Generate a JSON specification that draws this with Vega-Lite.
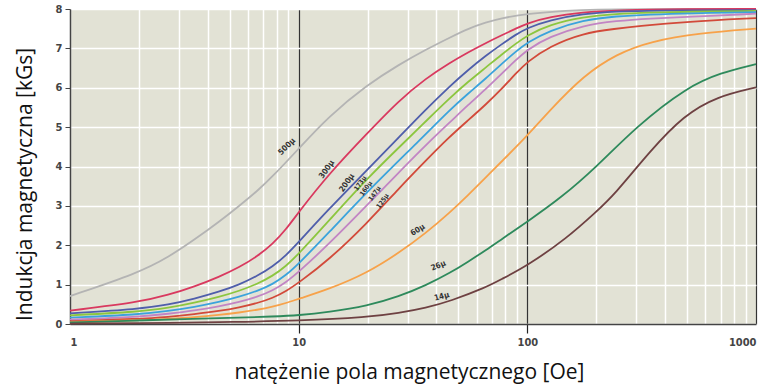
{
  "$schema": "https://vega.github.io/schema/vega-lite/v6.json",
  "width": 686,
  "height": 315,
  "autosize": {"type": "none"},
  "padding": {"left": 70, "top": 9, "right": 14, "bottom": 63},
  "background": "white",
  "config": {
    "view": {"fill": "#e2e2d5", "stroke": null},
    "axis": {
      "labelFont": "DejaVu Sans Condensed, Liberation Sans Narrow, Roboto, sans-serif",
      "labelFontWeight": "bold",
      "labelColor": "#444",
      "labelFontSize": 11,
      "titleFont": "Open Sans",
      "titleFontWeight": "normal",
      "titleColor": "#111",
      "titleFontSize": 21,
      "domainColor": "#444",
      "domainWidth": 1.5
    }
  },
  "datasets": {
    "curves": [
      {"mu": "500μ", "H": 1, "B": 0.71}, {"mu": "500μ", "H": 2, "B": 1.3}, {"mu": "500μ", "H": 2.7, "B": 1.7}, {"mu": "500μ", "H": 3.5, "B": 2.14}, {"mu": "500μ", "H": 4.5, "B": 2.6}, {"mu": "500μ", "H": 5.5, "B": 3.0}, {"mu": "500μ", "H": 6.6, "B": 3.38}, {"mu": "500μ", "H": 7.7, "B": 3.75}, {"mu": "500μ", "H": 10, "B": 4.45}, {"mu": "500μ", "H": 13.5, "B": 5.27}, {"mu": "500μ", "H": 20, "B": 6.08}, {"mu": "500μ", "H": 27.5, "B": 6.59}, {"mu": "500μ", "H": 36, "B": 6.97}, {"mu": "500μ", "H": 46, "B": 7.28}, {"mu": "500μ", "H": 55, "B": 7.5}, {"mu": "500μ", "H": 66, "B": 7.66}, {"mu": "500μ", "H": 77, "B": 7.77}, {"mu": "500μ", "H": 100, "B": 7.88}, {"mu": "500μ", "H": 150, "B": 7.96}, {"mu": "500μ", "H": 200, "B": 7.99}, {"mu": "500μ", "H": 300, "B": 8.0}, {"mu": "500μ", "H": 1000, "B": 8.0},
      {"mu": "300μ", "H": 1, "B": 0.34}, {"mu": "300μ", "H": 2, "B": 0.55}, {"mu": "300μ", "H": 2.7, "B": 0.74}, {"mu": "300μ", "H": 3.5, "B": 0.95}, {"mu": "300μ", "H": 4.5, "B": 1.2}, {"mu": "300μ", "H": 5.5, "B": 1.44}, {"mu": "300μ", "H": 6.6, "B": 1.72}, {"mu": "300μ", "H": 7.7, "B": 2.03}, {"mu": "300μ", "H": 8.8, "B": 2.4}, {"mu": "300μ", "H": 10, "B": 2.84}, {"mu": "300μ", "H": 13.5, "B": 3.8}, {"mu": "300μ", "H": 20, "B": 4.85}, {"mu": "300μ", "H": 27.5, "B": 5.68}, {"mu": "300μ", "H": 36, "B": 6.24}, {"mu": "300μ", "H": 46, "B": 6.64}, {"mu": "300μ", "H": 55, "B": 6.9}, {"mu": "300μ", "H": 66, "B": 7.14}, {"mu": "300μ", "H": 77, "B": 7.33}, {"mu": "300μ", "H": 89, "B": 7.5}, {"mu": "300μ", "H": 100, "B": 7.64}, {"mu": "300μ", "H": 125, "B": 7.8}, {"mu": "300μ", "H": 175, "B": 7.92}, {"mu": "300μ", "H": 245, "B": 7.97}, {"mu": "300μ", "H": 500, "B": 8.0}, {"mu": "300μ", "H": 1000, "B": 8.0},
      {"mu": "200μ", "H": 1, "B": 0.27}, {"mu": "200μ", "H": 2, "B": 0.38}, {"mu": "200μ", "H": 2.7, "B": 0.49}, {"mu": "200μ", "H": 3.5, "B": 0.64}, {"mu": "200μ", "H": 4.5, "B": 0.82}, {"mu": "200μ", "H": 5.5, "B": 1.0}, {"mu": "200μ", "H": 6.6, "B": 1.22}, {"mu": "200μ", "H": 7.7, "B": 1.46}, {"mu": "200μ", "H": 8.8, "B": 1.74}, {"mu": "200μ", "H": 10, "B": 2.08}, {"mu": "200μ", "H": 13.5, "B": 2.91}, {"mu": "200μ", "H": 20, "B": 3.92}, {"mu": "200μ", "H": 27, "B": 4.7}, {"mu": "200μ", "H": 36, "B": 5.45}, {"mu": "200μ", "H": 46, "B": 6.05}, {"mu": "200μ", "H": 55, "B": 6.45}, {"mu": "200μ", "H": 66, "B": 6.82}, {"mu": "200μ", "H": 77, "B": 7.1}, {"mu": "200μ", "H": 89, "B": 7.35}, {"mu": "200μ", "H": 100, "B": 7.52}, {"mu": "200μ", "H": 125, "B": 7.72}, {"mu": "200μ", "H": 175, "B": 7.88}, {"mu": "200μ", "H": 245, "B": 7.94}, {"mu": "200μ", "H": 345, "B": 7.96}, {"mu": "200μ", "H": 1000, "B": 7.97},
      {"mu": "173μ", "H": 1, "B": 0.22}, {"mu": "173μ", "H": 2, "B": 0.31}, {"mu": "173μ", "H": 2.7, "B": 0.41}, {"mu": "173μ", "H": 3.5, "B": 0.54}, {"mu": "173μ", "H": 4.5, "B": 0.69}, {"mu": "173μ", "H": 5.5, "B": 0.84}, {"mu": "173μ", "H": 6.6, "B": 1.02}, {"mu": "173μ", "H": 7.7, "B": 1.22}, {"mu": "173μ", "H": 8.8, "B": 1.47}, {"mu": "173μ", "H": 10, "B": 1.78}, {"mu": "173μ", "H": 13.5, "B": 2.61}, {"mu": "173μ", "H": 20, "B": 3.71}, {"mu": "173μ", "H": 30, "B": 4.7}, {"mu": "173μ", "H": 36, "B": 5.15}, {"mu": "173μ", "H": 46, "B": 5.75}, {"mu": "173μ", "H": 55, "B": 6.15}, {"mu": "173μ", "H": 66, "B": 6.52}, {"mu": "173μ", "H": 77, "B": 6.84}, {"mu": "173μ", "H": 89, "B": 7.12}, {"mu": "173μ", "H": 100, "B": 7.33}, {"mu": "173μ", "H": 125, "B": 7.6}, {"mu": "173μ", "H": 175, "B": 7.8}, {"mu": "173μ", "H": 245, "B": 7.88}, {"mu": "173μ", "H": 345, "B": 7.91}, {"mu": "173μ", "H": 500, "B": 7.93}, {"mu": "173μ", "H": 1000, "B": 7.95},
      {"mu": "160μ", "H": 1, "B": 0.16}, {"mu": "160μ", "H": 2, "B": 0.24}, {"mu": "160μ", "H": 2.7, "B": 0.33}, {"mu": "160μ", "H": 3.5, "B": 0.43}, {"mu": "160μ", "H": 4.5, "B": 0.56}, {"mu": "160μ", "H": 5.5, "B": 0.69}, {"mu": "160μ", "H": 6.6, "B": 0.84}, {"mu": "160μ", "H": 7.7, "B": 1.01}, {"mu": "160μ", "H": 8.8, "B": 1.24}, {"mu": "160μ", "H": 10, "B": 1.53}, {"mu": "160μ", "H": 13.5, "B": 2.31}, {"mu": "160μ", "H": 20, "B": 3.37}, {"mu": "160μ", "H": 34, "B": 4.68}, {"mu": "160μ", "H": 46, "B": 5.45}, {"mu": "160μ", "H": 55, "B": 5.85}, {"mu": "160μ", "H": 66, "B": 6.24}, {"mu": "160μ", "H": 77, "B": 6.6}, {"mu": "160μ", "H": 89, "B": 6.92}, {"mu": "160μ", "H": 100, "B": 7.15}, {"mu": "160μ", "H": 125, "B": 7.45}, {"mu": "160μ", "H": 175, "B": 7.72}, {"mu": "160μ", "H": 245, "B": 7.82}, {"mu": "160μ", "H": 345, "B": 7.86}, {"mu": "160μ", "H": 500, "B": 7.89}, {"mu": "160μ", "H": 1000, "B": 7.92},
      {"mu": "147μ", "H": 1, "B": 0.11}, {"mu": "147μ", "H": 2, "B": 0.18}, {"mu": "147μ", "H": 2.7, "B": 0.26}, {"mu": "147μ", "H": 3.5, "B": 0.34}, {"mu": "147μ", "H": 4.5, "B": 0.45}, {"mu": "147μ", "H": 5.5, "B": 0.56}, {"mu": "147μ", "H": 6.6, "B": 0.69}, {"mu": "147μ", "H": 7.7, "B": 0.85}, {"mu": "147μ", "H": 8.8, "B": 1.06}, {"mu": "147μ", "H": 10, "B": 1.32}, {"mu": "147μ", "H": 13.5, "B": 2.02}, {"mu": "147μ", "H": 20, "B": 3.03}, {"mu": "147μ", "H": 27.5, "B": 3.86}, {"mu": "147μ", "H": 38, "B": 4.68}, {"mu": "147μ", "H": 46, "B": 5.13}, {"mu": "147μ", "H": 55, "B": 5.56}, {"mu": "147μ", "H": 66, "B": 5.97}, {"mu": "147μ", "H": 77, "B": 6.35}, {"mu": "147μ", "H": 89, "B": 6.7}, {"mu": "147μ", "H": 100, "B": 6.97}, {"mu": "147μ", "H": 125, "B": 7.3}, {"mu": "147μ", "H": 175, "B": 7.58}, {"mu": "147μ", "H": 245, "B": 7.7}, {"mu": "147μ", "H": 345, "B": 7.76}, {"mu": "147μ", "H": 500, "B": 7.8}, {"mu": "147μ", "H": 1000, "B": 7.88},
      {"mu": "125μ", "H": 1, "B": 0.07}, {"mu": "125μ", "H": 2, "B": 0.13}, {"mu": "125μ", "H": 2.7, "B": 0.18}, {"mu": "125μ", "H": 3.5, "B": 0.25}, {"mu": "125μ", "H": 4.5, "B": 0.33}, {"mu": "125μ", "H": 5.5, "B": 0.42}, {"mu": "125μ", "H": 6.6, "B": 0.53}, {"mu": "125μ", "H": 7.7, "B": 0.66}, {"mu": "125μ", "H": 8.8, "B": 0.83}, {"mu": "125μ", "H": 10, "B": 1.05}, {"mu": "125μ", "H": 13.5, "B": 1.62}, {"mu": "125μ", "H": 20, "B": 2.57}, {"mu": "125μ", "H": 27.5, "B": 3.45}, {"mu": "125μ", "H": 36, "B": 4.15}, {"mu": "125μ", "H": 45, "B": 4.72}, {"mu": "125μ", "H": 55, "B": 5.17}, {"mu": "125μ", "H": 66, "B": 5.58}, {"mu": "125μ", "H": 77, "B": 5.96}, {"mu": "125μ", "H": 89, "B": 6.36}, {"mu": "125μ", "H": 100, "B": 6.66}, {"mu": "125μ", "H": 125, "B": 7.05}, {"mu": "125μ", "H": 175, "B": 7.39}, {"mu": "125μ", "H": 245, "B": 7.5}, {"mu": "125μ", "H": 300, "B": 7.56}, {"mu": "125μ", "H": 500, "B": 7.68}, {"mu": "125μ", "H": 1000, "B": 7.77},
      {"mu": "60μ", "H": 1, "B": 0.05}, {"mu": "60μ", "H": 2, "B": 0.09}, {"mu": "60μ", "H": 2.7, "B": 0.13}, {"mu": "60μ", "H": 3.5, "B": 0.17}, {"mu": "60μ", "H": 4.5, "B": 0.23}, {"mu": "60μ", "H": 5.5, "B": 0.29}, {"mu": "60μ", "H": 6.6, "B": 0.36}, {"mu": "60μ", "H": 7.7, "B": 0.44}, {"mu": "60μ", "H": 8.8, "B": 0.53}, {"mu": "60μ", "H": 10, "B": 0.64}, {"mu": "60μ", "H": 13.5, "B": 0.88}, {"mu": "60μ", "H": 20, "B": 1.3}, {"mu": "60μ", "H": 27.5, "B": 1.81}, {"mu": "60μ", "H": 36, "B": 2.31}, {"mu": "60μ", "H": 46, "B": 2.84}, {"mu": "60μ", "H": 55, "B": 3.27}, {"mu": "60μ", "H": 66, "B": 3.73}, {"mu": "60μ", "H": 77, "B": 4.12}, {"mu": "60μ", "H": 100, "B": 4.78}, {"mu": "60μ", "H": 125, "B": 5.42}, {"mu": "60μ", "H": 177, "B": 6.32}, {"mu": "60μ", "H": 246, "B": 6.86}, {"mu": "60μ", "H": 345, "B": 7.18}, {"mu": "60μ", "H": 570, "B": 7.39}, {"mu": "60μ", "H": 1000, "B": 7.5},
      {"mu": "26μ", "H": 1, "B": 0.04}, {"mu": "26μ", "H": 2, "B": 0.09}, {"mu": "26μ", "H": 3.5, "B": 0.13}, {"mu": "26μ", "H": 5.5, "B": 0.16}, {"mu": "26μ", "H": 7.7, "B": 0.19}, {"mu": "26μ", "H": 10, "B": 0.22}, {"mu": "26μ", "H": 13.5, "B": 0.3}, {"mu": "26μ", "H": 20, "B": 0.46}, {"mu": "26μ", "H": 27.5, "B": 0.7}, {"mu": "26μ", "H": 36, "B": 0.98}, {"mu": "26μ", "H": 46, "B": 1.3}, {"mu": "26μ", "H": 55, "B": 1.58}, {"mu": "26μ", "H": 66, "B": 1.88}, {"mu": "26μ", "H": 77, "B": 2.15}, {"mu": "26μ", "H": 100, "B": 2.6}, {"mu": "26μ", "H": 140, "B": 3.2}, {"mu": "26μ", "H": 200, "B": 3.98}, {"mu": "26μ", "H": 300, "B": 5.02}, {"mu": "26μ", "H": 500, "B": 6.02}, {"mu": "26μ", "H": 700, "B": 6.38}, {"mu": "26μ", "H": 1000, "B": 6.6},
      {"mu": "14μ", "H": 1, "B": 0.01}, {"mu": "14μ", "H": 3, "B": 0.03}, {"mu": "14μ", "H": 5, "B": 0.05}, {"mu": "14μ", "H": 10, "B": 0.08}, {"mu": "14μ", "H": 20, "B": 0.17}, {"mu": "14μ", "H": 27.5, "B": 0.28}, {"mu": "14μ", "H": 36, "B": 0.41}, {"mu": "14μ", "H": 46, "B": 0.58}, {"mu": "14μ", "H": 66, "B": 0.93}, {"mu": "14μ", "H": 76, "B": 1.12}, {"mu": "14μ", "H": 100, "B": 1.48}, {"mu": "14μ", "H": 149, "B": 2.18}, {"mu": "14μ", "H": 200, "B": 2.85}, {"mu": "14μ", "H": 240, "B": 3.28}, {"mu": "14μ", "H": 345, "B": 4.4}, {"mu": "14μ", "H": 484, "B": 5.3}, {"mu": "14μ", "H": 676, "B": 5.78}, {"mu": "14μ", "H": 1000, "B": 6.01}
    ],
    "labels": [
      {"label": "500μ", "H": 8.9, "B": 4.5},
      {"label": "300μ", "H": 13.3, "B": 3.92},
      {"label": "200μ", "H": 16.3, "B": 3.58},
      {"label": "173μ", "H": 18.6, "B": 3.57},
      {"label": "160μ", "H": 19.7, "B": 3.44},
      {"label": "147μ", "H": 21.5, "B": 3.31},
      {"label": "125μ", "H": 23.3, "B": 3.12},
      {"label": "60μ", "H": 33.2, "B": 2.38},
      {"label": "26μ", "H": 40.9, "B": 1.47},
      {"label": "14μ", "H": 42.3, "B": 0.69}
    ]
  },
  "encoding": {
    "x": {
      "field": "H", "type": "quantitative",
      "scale": {"type": "log", "domain": [1, 1000], "nice": false},
      "axis": {
        "title": "natężenie pola magnetycznego [Oe]",
        "values": [1, 2, 3, 4, 5, 6, 7, 8, 9, 10, 20, 30, 40, 50, 60, 70, 80, 90, 100, 200, 300, 400, 500, 600, 700, 800, 900, 1000],
        "labelExpr": "(datum.value == 1 || datum.value == 10 || datum.value == 100 || datum.value == 1000) ? format(datum.value, 'd') : ''",
        "labelOverlap": false,
        "labelFlush": true,
        "labelPadding": 3,
        "tickSize": 9,
        "tickWidth": 1.2,
        "tickColor": {"condition": {"test": "datum.value == 10 || datum.value == 100", "value": "#222"}, "value": "transparent"},
        "grid": true,
        "gridColor": {"condition": {"test": "datum.value == 10 || datum.value == 100 || datum.value == 1000", "value": "#333"}, "value": "#ffffff"},
        "gridWidth": {"condition": {"test": "datum.value == 10 || datum.value == 100 || datum.value == 1000", "value": 1.2}, "value": 1.5},
        "gridOpacity": 1,
        "titleY": 48,
        "titleX": 339,
        "titleBaseline": "middle"
      }
    },
    "y": {
      "field": "B", "type": "quantitative",
      "scale": {"domain": [0, 8], "nice": false},
      "axis": {
        "title": "Indukcja magnetyczna [kGs]",
        "values": [0, 1, 2, 3, 4, 5, 6, 7, 8],
        "tickSize": 5,
        "tickColor": "#444",
        "labelPadding": 3,
        "grid": true,
        "gridColor": "#ffffff",
        "gridWidth": 1.5,
        "gridOpacity": 1,
        "titleX": -45,
        "titleY": 175,
        "titleAlign": "center",
        "titleBaseline": "middle"
      }
    }
  },
  "layer": [
    {
      "data": {"name": "curves"},
      "mark": {"type": "line", "interpolate": "basis", "strokeWidth": 1.8},
      "encoding": {
        "color": {
          "field": "mu", "type": "nominal", "legend": null,
          "scale": {
            "domain": ["500μ", "300μ", "200μ", "173μ", "160μ", "147μ", "125μ", "60μ", "26μ", "14μ"],
            "range": ["#b4b4b4", "#d9395f", "#4f5eab", "#8cc63f", "#3ba3dc", "#c285c4", "#d24a3a", "#f7a24a", "#2e8a5c", "#6e4142"]
          }
        }
      }
    },
    {
      "data": {"name": "labels"},
      "transform": [{"filter": "datum.label == '500μ'"}],
      "mark": {"type": "text", "angle": -45, "font": "DejaVu Sans Condensed, Liberation Sans Narrow, sans-serif", "fontWeight": "bold", "fontSize": 8, "color": "#333"},
      "encoding": {"text": {"field": "label"}}
    },
    {
      "data": {"name": "labels"},
      "transform": [{"filter": "datum.label == '300μ' || datum.label == '200μ'"}],
      "mark": {"type": "text", "angle": -55, "font": "DejaVu Sans Condensed, Liberation Sans Narrow, sans-serif", "fontWeight": "bold", "fontSize": 8, "color": "#333"},
      "encoding": {"text": {"field": "label"}}
    },
    {
      "data": {"name": "labels"},
      "transform": [{"filter": "datum.label == '173μ' || datum.label == '160μ' || datum.label == '147μ' || datum.label == '125μ'"}],
      "mark": {"type": "text", "angle": -55, "font": "DejaVu Sans Condensed, Liberation Sans Narrow, sans-serif", "fontWeight": "bold", "fontSize": 6.5, "color": "#333"},
      "encoding": {"text": {"field": "label"}}
    },
    {
      "data": {"name": "labels"},
      "transform": [{"filter": "datum.label == '60μ'"}],
      "mark": {"type": "text", "angle": -32, "font": "DejaVu Sans Condensed, Liberation Sans Narrow, sans-serif", "fontWeight": "bold", "fontSize": 8, "color": "#333"},
      "encoding": {"text": {"field": "label"}}
    },
    {
      "data": {"name": "labels"},
      "transform": [{"filter": "datum.label == '26μ'"}],
      "mark": {"type": "text", "angle": -22, "font": "DejaVu Sans Condensed, Liberation Sans Narrow, sans-serif", "fontWeight": "bold", "fontSize": 8, "color": "#333"},
      "encoding": {"text": {"field": "label"}}
    },
    {
      "data": {"name": "labels"},
      "transform": [{"filter": "datum.label == '14μ'"}],
      "mark": {"type": "text", "angle": -15, "font": "DejaVu Sans Condensed, Liberation Sans Narrow, sans-serif", "fontWeight": "bold", "fontSize": 8, "color": "#333"},
      "encoding": {"text": {"field": "label"}}
    }
  ]
}
